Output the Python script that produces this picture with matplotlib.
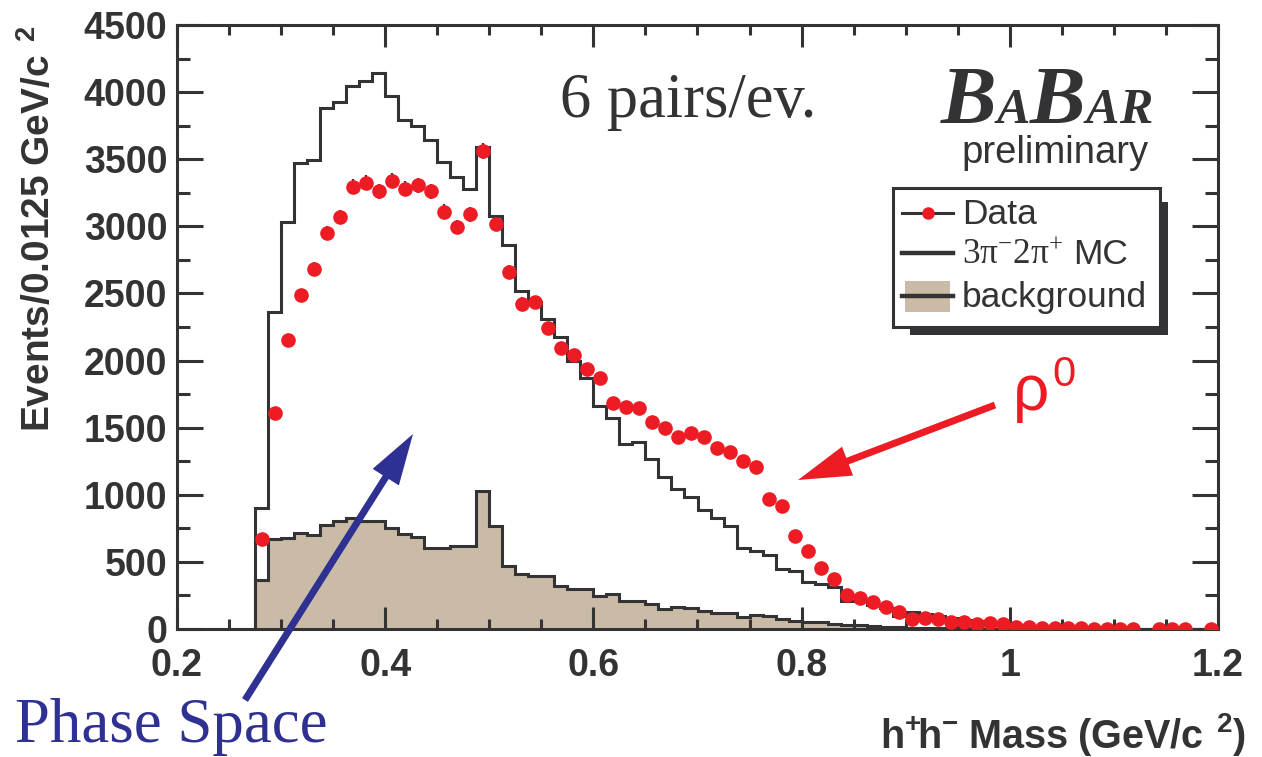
import numpy as np
import matplotlib
matplotlib.use("Agg")
import matplotlib.pyplot as plt
from matplotlib.patches import Rectangle, FancyArrow
from matplotlib.lines import Line2D

plt.rcParams["font.family"] = ["Liberation Sans", "DejaVu Sans"]
plt.rcParams["mathtext.fontset"] = "custom"
plt.rcParams["mathtext.rm"] = "Liberation Serif"
plt.rcParams["mathtext.it"] = "Liberation Serif:italic"
plt.rcParams["mathtext.bf"] = "Liberation Sans:bold"
plt.rcParams["mathtext.sf"] = "Liberation Sans"

INK = "#333335"
TAN = "#c9bba6"
RED = "#ed1c24"
BLUE = "#2e3192"

# histogram binning: 0.0125 GeV/c^2 bins starting at 0.275
bin_low = 0.275
bin_width = 0.0125

# 3pi- 2pi+ Monte Carlo (events per bin)
mc_counts = [905, 2360, 3030, 3475, 3495, 3880, 3925, 4045, 4080, 4140,
             3970, 3790, 3750, 3645, 3480, 3365, 3280, 3590, 3080, 2860,
             2515, 2435, 2310, 2175, 2000, 1870, 1660, 1575, 1375, 1390,
             1265, 1135, 1045, 980, 885, 830, 765, 600, 580, 550,
             445, 435, 350, 333, 310, 210, 205, 180, 155, 95,
             125, 115, 100, 85, 70, 60, 50, 40, 30, 22,
             17, 13, 10, 8, 6, 5, 4, 3, 3, 2,
             2, 1, 1, 1]

# background estimate (events per bin)
bkg_counts = [368, 670, 678, 714, 700, 775, 803, 830, 808, 808,
              756, 711, 684, 603, 603, 617, 617, 1030, 765, 471,
              408, 397, 397, 323, 298, 298, 248, 261, 206, 211,
              186, 149, 161, 156, 132, 117, 117, 87, 107, 99,
              75, 62, 55, 50, 35, 30, 28, 25, 18, 12,
              10, 8, 6, 5, 4, 3, 3, 2, 2, 1,
              1, 1, 0, 0, 0, 0, 0, 0, 0, 0,
              0, 0, 0, 0]

# data (events per bin)
data_counts = [670, 1610, 2155, 2485, 2680, 2950, 3070, 3295, 3325, 3260,
               3340, 3280, 3305, 3260, 3110, 2995, 3090, 3560, 3020, 2660,
               2425, 2435, 2240, 2095, 2040, 1935, 1870, 1685, 1655, 1645,
               1545, 1500, 1430, 1460, 1430, 1350, 1315, 1250, 1210, 970,
               915, 690, 580, 455, 373, 251, 229, 200, 166, 124,
               72, 79, 72, 55, 55, 37, 42, 37, 17, 12,
               5, 5, 4, 4, 3, 3, 3, 2, 0, 2,
               1, 1, 0, 1]

x_ticks = [0.2, 0.4, 0.6, 0.8, 1.0, 1.2]
x_tick_labels = ["0.2", "0.4", "0.6", "0.8", "1", "1.2"]
y_ticks = [0, 500, 1000, 1500, 2000, 2500, 3000, 3500, 4000, 4500]

n_bins = len(mc_counts)
edges = bin_low + bin_width * np.arange(n_bins + 1)
centers = edges[:-1] + bin_width / 2

W, H = 1262, 757
fig = plt.figure(figsize=(W / 100, H / 100), dpi=100)
fig.patch.set_facecolor("white")

ax = fig.add_axes([177 / W, 1 - 629 / H, (1218 - 177) / W, (629 - 25) / H])
ax.set_xlim(0.2, 1.2)
ax.set_ylim(0, 4500)

ax.stairs(bkg_counts, edges, fill=True, facecolor=TAN, edgecolor="none", zorder=1)
ax.stairs(bkg_counts, edges, color=INK, lw=2.2, zorder=2)
ax.stairs(mc_counts, edges, color=INK, lw=2.2, zorder=3)

d = np.asarray(data_counts, dtype=float)
keep = d > 0
ax.errorbar(centers[keep], d[keep], yerr=np.sqrt(d[keep]), fmt="o", ms=9.5,
            mfc=RED, mec=RED, ecolor=INK, elinewidth=1.6, capsize=0, zorder=4)

ax.set_xticks(x_ticks)
ax.set_xticklabels(x_tick_labels)
ax.set_xticks(np.arange(0.2, 1.2001, 0.05), minor=True)
ax.set_yticks(y_ticks)
ax.set_yticklabels([str(v) for v in y_ticks])
ax.set_yticks(np.arange(0, 4501, 250), minor=True)
ax.tick_params(which="both", direction="in", top=True, right=True,
               color=INK, width=2.2, labelcolor=INK, labelsize=27)
ax.tick_params(axis="y", which="major", length=19, pad=7)
ax.tick_params(axis="y", which="minor", length=9.5)
ax.tick_params(axis="x", which="major", length=16, pad=14)
ax.tick_params(axis="x", which="minor", length=7.5)
for lbl in ax.get_xticklabels() + ax.get_yticklabels():
    lbl.set_fontweight("bold")
for sp in ax.spines.values():
    sp.set_linewidth(2.2)
    sp.set_color(INK)

# overlay in figure pixel coordinates for annotations
ov = fig.add_axes([0, 0, 1, 1])
ov.set_xlim(0, W)
ov.set_ylim(H, 0)
ov.axis("off")
ov.patch.set_alpha(0)
ov.set_zorder(5)

ov.text(19, 26, r"$\mathbf{Events/0.0125\ GeV/c^{\ \ 2}}$", rotation=90,
        ha="left", va="top", fontsize=28, color=INK)
ov.text(1246, 748, r"$\mathbf{h^{+}\!h^{-}\ Mass\ (GeV/c^{\ \ 2})}$",
        ha="right", va="baseline", fontsize=28.5, color=INK)

ov.text(560, 117, "6 pairs/ev.", family="Liberation Serif", fontsize=45,
        color=INK, va="baseline", ha="left")

# BaBar logo
logo = [("B", 941, 60), ("A", 997, 36), ("B", 1030, 60), ("A", 1086, 36), ("R", 1119, 36)]
for ch, xl, fs in logo:
    ov.text(xl, 123, ch, family="Liberation Serif", style="italic",
            weight="bold", fontsize=fs, color=INK, va="baseline", ha="left")
ov.text(961, 163, "preliminary", fontsize=27.5, color=INK, va="baseline", ha="left")

# legend box with drop shadow
ov.add_patch(Rectangle((910, 202), 1168 - 910, 335 - 202, facecolor=INK,
                       edgecolor="none", zorder=1))
ov.add_patch(Rectangle((893, 188), 1160 - 893, 327 - 188, facecolor="white",
                       edgecolor=INK, lw=2.2, zorder=2))
ov.add_line(Line2D([902, 953], [213, 213], color=INK, lw=2.2, zorder=3))
ov.add_line(Line2D([928], [213], marker="o", ms=8, mfc=RED, mec=RED, zorder=4))
ov.text(962, 224, "Data", fontsize=25.5, color=INK, va="baseline", zorder=3)
ov.add_line(Line2D([902, 953], [253, 253], color=INK, lw=3.2, zorder=3))
ov.text(962, 264, r"$\mathrm{3\pi^{-}2\pi^{+}}$", fontsize=25.5, color=INK,
        va="baseline", zorder=3)
ov.text(1073, 264, "MC", fontsize=25.5, color=INK, va="baseline", zorder=3)
ov.add_patch(Rectangle((905, 281), 45, 31, facecolor=TAN, edgecolor="none", zorder=3))
ov.add_line(Line2D([902, 953], [296, 296], color=INK, lw=3.2, zorder=4))
ov.text(962, 307, "background", fontsize=25.5, color=INK, va="baseline", zorder=3)

# rho0 annotation
ov.text(1013, 410, "\u03c1", fontsize=46, color=RED, va="baseline", ha="left")
ov.text(1052, 386, "0", fontsize=30, color=RED, va="baseline", ha="left")
ov.add_patch(FancyArrow(995, 405, 798 - 995, 480 - 405, width=7, head_width=31,
                        head_length=53, length_includes_head=True,
                        color=RED, lw=0))

# phase space annotation
ov.add_patch(FancyArrow(245, 700, 413 - 245, 434 - 700, width=7, head_width=31,
                        head_length=51, length_includes_head=True,
                        color=BLUE, lw=0))
ov.text(15, 742, "Phase Space", family="Liberation Serif", fontsize=45.3,
        color=BLUE, va="baseline", ha="left")

fig.savefig("out.png", dpi=100)
